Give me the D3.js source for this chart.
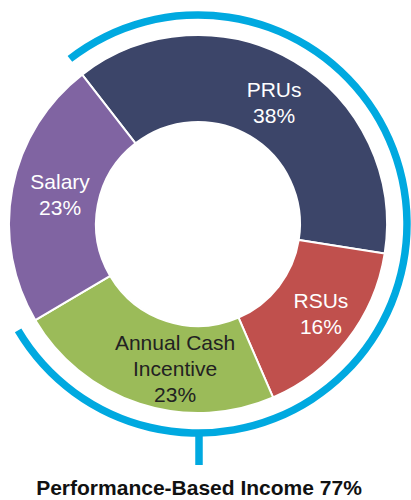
<!DOCTYPE html>
<html>
<head>
<meta charset="utf-8">
<script src="https://cdn.jsdelivr.net/npm/d3@7"></script>
<style>
  body { margin: 0; background: #fff; }
  svg { display: block; }
  text { font-family: "Liberation Sans", Arial, sans-serif; }
</style>
</head>
<body>
<div id="chart"></div>
<script>
// Data
const categories = ["PRUs", "RSUs", "Annual Cash Incentive", "Salary"]
const values = [38, 16, 23, 23]
const labelLines = [["PRUs", "38%"], ["RSUs", "16%"], ["Annual Cash", "Incentive", "23%"], ["Salary", "23%"]]
const performanceShare = 77
const title = "Performance-Based Income 77%"

const width = 411, height = 500
const cx = 198, cy = 224
const outerR = 189, innerR = 102
const bracketR = 209

const color = d3.scaleOrdinal()
    .domain(categories)
    .range(["#3c4569", "#c0504d", "#9bbb59", "#8064a2"])

const labelColor = d3.scaleOrdinal()
    .domain(categories)
    .range(["#ffffff", "#ffffff", "#222222", "#ffffff"])

// nudge of the first baseline away from the slice centroid
const labelShift = {
    "PRUs": [2, -2],
    "RSUs": [8, -5],
    "Annual Cash Incentive": [22, -12],
    "Salary": [5, -8]
}

const svg = d3.select("#chart")
    .append("svg")
    .attr("width", width)
    .attr("height", height)

const g = svg.append("g")
    .attr("transform", "translate(" + cx + "," + cy + ")")

const startAngle = -0.105 * 2 * Math.PI

const pie = d3.pie()
    .sort(null)
    .value(d => d)
    .startAngle(startAngle)
    .endAngle(startAngle + 2 * Math.PI)

const arcs = pie(values)

const arc = d3.arc()
    .innerRadius(innerR)
    .outerRadius(outerR)

g.selectAll("path.slice")
    .data(arcs)
    .enter()
    .append("path")
        .attr("class", "slice")
        .attr("d", arc)
        .attr("fill", (d, i) => color(categories[i]))
        .attr("stroke", "#fff")
        .attr("stroke-width", 2)

// Labels
const lineH = 26
g.selectAll("text.label")
    .data(arcs)
    .enter()
    .append("text")
        .attr("class", "label")
        .attr("text-anchor", "middle")
        .style("font-size", "21px")
        .attr("fill", (d, i) => labelColor(categories[i]))
        .each(function (d, i) {
            const c = arc.centroid(d)
            const s = labelShift[categories[i]]
            const x = c[0] + s[0]
            const y0 = c[1] + s[1]
            d3.select(this).selectAll("tspan")
                .data(labelLines[i])
                .enter()
                .append("tspan")
                    .attr("x", x)
                    .attr("y", (t, j) => y0 + j * lineH)
                    .text(t => t)
        })

// Blue bracket arc over the performance-based slices
const perfEnd = startAngle + performanceShare / 100 * 2 * Math.PI
const bracket = d3.arc()
    .innerRadius(bracketR - 3.75)
    .outerRadius(bracketR + 3.75)
    .startAngle(startAngle)
    .endAngle(perfEnd)

g.append("path")
    .attr("d", bracket())
    .attr("fill", "#00a9e0")

g.append("line")
    .attr("x1", 1)
    .attr("x2", 1)
    .attr("y1", bracketR)
    .attr("y2", 241)
    .attr("stroke", "#00a9e0")
    .attr("stroke-width", 7.5)

svg.append("text")
    .attr("x", 199)
    .attr("y", 495)
    .attr("text-anchor", "middle")
    .style("font-weight", "bold")
    .style("font-size", "21px")
    .attr("fill", "#111")
    .text(title)
</script>
</body>
</html>
